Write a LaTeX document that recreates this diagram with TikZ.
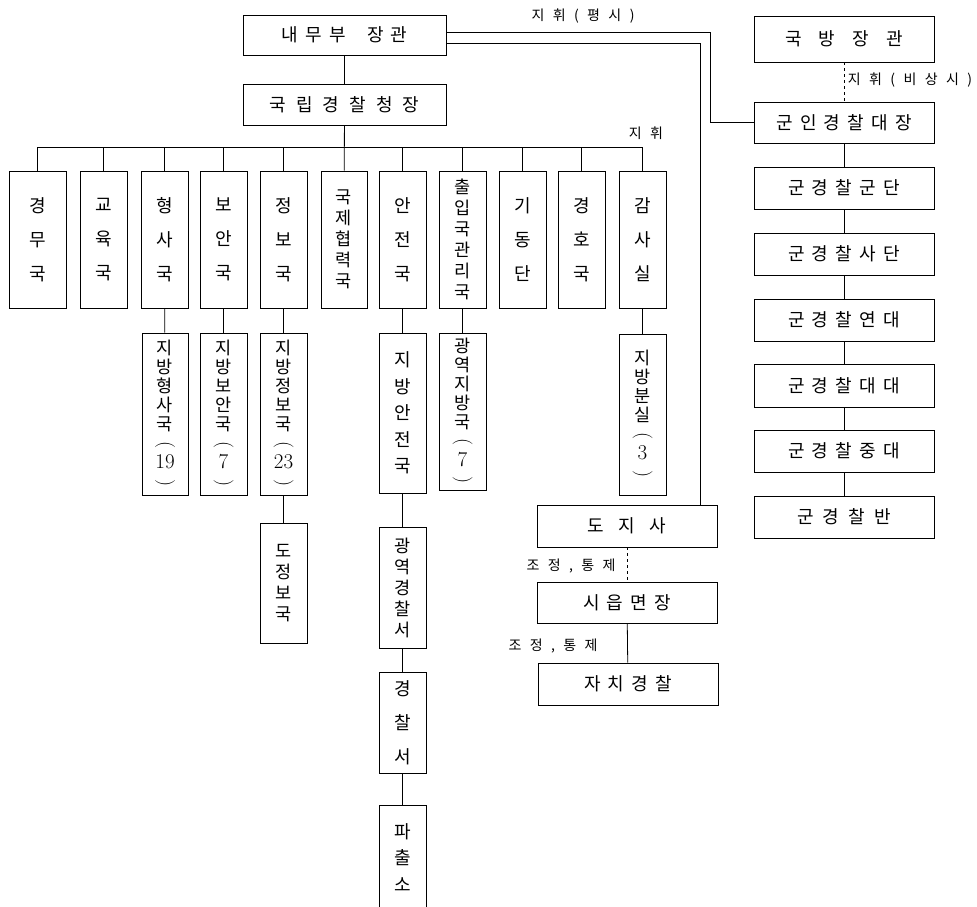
\documentclass[tikz,border=0pt]{standalone}
\usepackage{fontspec}
\usepackage{graphicx}
\newfontfamily\kr{Noto Sans CJK KR}
\newcommand\vlp{\rotatebox[origin=c]{-90}{\rmfamily\fontsize{20}{18}\selectfont(}}
\newcommand\vrp{\rotatebox[origin=c]{-90}{\rmfamily\fontsize{20}{18}\selectfont)}}
\newcommand\dg[1]{{\rmfamily\fontsize{21}{18}\selectfont #1}}
\newcommand\ksp{\spaceskip=0.4em\relax}
\newcommand\lsp{\spaceskip=0.6em\relax}
\newcommand\obox[7]{%
  \pgfmathsetmacro\obw{#5-#3}\pgfmathsetmacro\obh{#6-#4}%
  \pgfmathsetmacro\obx{(#3+#5)/2}\pgfmathsetmacro\oby{(#4+#6)/2}%
  \node[box,#1,minimum width=\obw pt,minimum height=\obh pt] (#2) at (\obx,\oby) {#7};}
\tikzset{
  box/.style={draw=black, line width=0.8pt, inner sep=0pt, align=center,
    font=\kr\fontsize{18}{20}\selectfont\ksp},
  vt/.style={font=\kr\fontsize{18}{34}\selectfont},
  vm/.style={font=\kr\fontsize{18}{26.5}\selectfont},
  vtt/.style={font=\kr\fontsize{17.5}{21}\selectfont},
  vs/.style={font=\kr\fontsize{17.5}{19}\selectfont},
  lbl/.style={font=\kr\fontsize{14}{16}\selectfont\lsp, inner sep=0pt},
  ln/.style={line width=0.8pt, draw=black}
}
\begin{document}
\begin{tikzpicture}[x=1pt,y=-1pt]
\useasboundingbox[fill=white] (0,0) rectangle (977,906);
% top
\obox{}{nmb}{243}{15}{446}{55}{내 무 부 \ \ 장 관}
\obox{}{kgc}{243}{84}{446}{125}{국\hspace{10pt}립\hspace{10pt}경\hspace{10pt}찰\hspace{10pt}청\hspace{10pt}장}
\obox{}{kbj}{754}{16}{934}{62}{국\hspace{17pt}방\hspace{17pt}장\hspace{17pt}관}
\obox{}{gig}{754}{102}{934}{143}{군 인 경 찰 대 장}
% right column
\obox{}{gdan}{754}{167}{934}{209}{군 경 찰 군 단}
\obox{}{sdan}{754}{233}{934}{275}{군 경 찰 사 단}
\obox{}{ydae}{754}{299}{934}{341}{군 경 찰 연 대}
\obox{}{ddae}{754}{364}{934}{407}{군 경 찰 대 대}
\obox{}{jdae}{754}{430}{934}{472}{군 경 찰 중 대}
\obox{}{ban}{754}{496}{934}{538}{군\hspace{9pt}경\hspace{9pt}찰\hspace{9pt}반}
% main row
\obox{vt}{gm}{9}{171}{66}{308}{경\\무\\국}
\obox{vt}{gy}{80}{171}{127}{308}{교\\육\\국}
\obox{vt}{hs}{141}{171}{188}{308}{형\\사\\국}
\obox{vt}{ba}{200}{171}{247}{308}{보\\안\\국}
\obox{vt}{jb}{260}{171}{307}{308}{정\\보\\국}
\obox{vtt}{kj}{321}{171}{367}{308}{국\\제\\협\\력\\국}
\obox{vt}{aj}{379}{171}{426}{308}{안\\전\\국}
\obox{vtt}{cr}{439}{171}{486}{308}{출\\입\\국\\관\\리\\국}
\obox{vt}{gid}{499}{171}{546}{308}{기\\동\\단}
\obox{vt}{gh}{558}{171}{605}{308}{경\\호\\국}
\obox{vt}{gs}{619}{171}{666}{308}{감\\사\\실}
% sub boxes
\obox{vs}{jhs}{142}{333}{188}{495}{지\\방\\형\\사\\국\\\vlp\\\dg{19}\\\vrp}
\obox{vs}{jba}{200}{333}{247}{495}{지\\방\\보\\안\\국\\\vlp\\\dg{7}\\\vrp}
\obox{vs}{jjb}{260}{333}{307}{495}{지\\방\\정\\보\\국\\\vlp\\\dg{23}\\\vrp}
\obox{vtt}{djb}{260}{523}{307}{643}{도\\정\\보\\국}
\obox{vm}{jaj}{379}{333}{426}{493}{지\\방\\안\\전\\국}
\obox{vs}{gyj}{439}{333}{486}{490}{광\\역\\지\\방\\국\\\vlp\\\dg{7}\\\vrp}
\obox{vtt}{gyc}{379}{527}{426}{648}{광\\역\\경\\찰\\서}
\obox{vt}{gcs}{379}{672}{426}{773}{경\\찰\\서}
\obox{vm}{pcs}{379}{805}{426}{910}{파\\출\\소}
\obox{vs}{jbs}{619}{334}{666}{495}{지\\방\\분\\실\\\vlp\\\dg{3}\\\vrp}
% local
\obox{}{djs}{537}{505}{717}{547}{도 \ 지 \ 사}
\obox{}{sym}{537}{582}{717}{623}{시 읍 면 장}
\obox{}{jcg}{538}{663}{718}{705}{자 치 경 찰}
% labels
\node[lbl] (l1) at (583,16) {지 휘 ( 평 시 )};
\node[lbl] (l2) at (910,80) {지 휘 ( 비 상 시 )};
\node[lbl] (l3) at (646,133) {지 휘};
\node[lbl] (l4) at (571,566) {조 정 , 통 제};
\node[lbl] (l5) at (553,646) {조 정 , 통 제};
% connectors
\coordinate (bus) at (0,147);
\draw[ln] (nmb) -- (kgc);
\draw[ln] (kgc) -- (kj);
\draw[ln] (gm.north) -- (gm.north |- bus) -- (gs.north |- bus) -- (gs.north);
\foreach \n in {gy,hs,ba,jb,aj,cr,gid,gh}{\draw[ln] (\n.north) -- (\n.north |- bus);}
\draw[ln] (hs) -- (jhs);
\draw[ln] (ba) -- (jba);
\draw[ln] (jb) -- (jjb);
\draw[ln] (jjb) -- (djb);
\draw[ln] (aj) -- (jaj);
\draw[ln] (jaj) -- (gyc);
\draw[ln] (gyc) -- (gcs);
\draw[ln] (gcs) -- (pcs);
\draw[ln] (cr) -- (gyj);
\draw[ln] (gs) -- (jbs);
\coordinate (k1) at (710,32);
\coordinate (k2) at (700,43);
\draw[ln] (nmb.east |- k1) -- (k1) |- (gig.west);
\draw[ln] (nmb.east |- k2) -- (k2) -- (k2 |- djs.north);
\draw[ln,dashed] (kbj) -- (gig);
\draw[ln] (gig) -- (gdan);
\draw[ln] (gdan) -- (sdan);
\draw[ln] (sdan) -- (ydae);
\draw[ln] (ydae) -- (ddae);
\draw[ln] (ddae) -- (jdae);
\draw[ln] (jdae) -- (ban);
\draw[ln,dashed] (djs) -- (sym);
\draw[ln] (sym) -- (jcg);
\end{tikzpicture}
\end{document}
